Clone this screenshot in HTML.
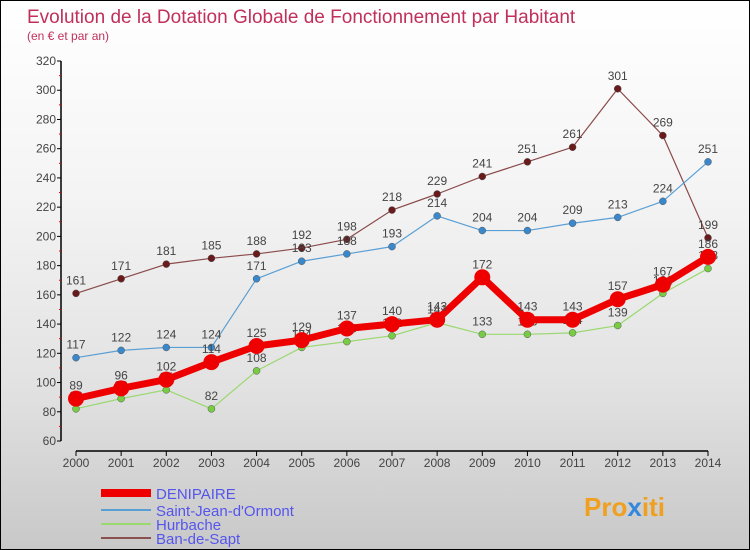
<!DOCTYPE html>
<html><head><meta charset="utf-8"><style>
body{margin:0}
#c{width:750px;height:550px;position:relative;box-sizing:border-box;border:1px solid #000;background:linear-gradient(#fff,#f4f4f4 35%,#e2e2e2 70%,#c8c8c8);font-family:"Liberation Sans",sans-serif;overflow:hidden}
</style></head><body>
<div id="c">
<svg id="s" width="750" height="550" style="position:absolute;left:0;top:0">
<text x="26" y="22" font-size="19" fill="#c0305a">Evolution de la Dotation Globale de Fonctionnement par Habitant</text>
<text x="26" y="39" font-size="12" fill="#c0305a">(en € et par an)</text>
<line x1="60" y1="60" x2="60" y2="440" stroke="#000" stroke-width="1.5"/>
<line x1="75" y1="450" x2="707" y2="450" stroke="#000" stroke-width="1.5"/>
<g id="g"></g>
<g>
<line x1="100" y1="492" x2="150" y2="492" stroke="#e00" stroke-width="8"/>
<text x="155" y="498" font-size="15" fill="#5555ee">DENIPAIRE</text>
<line x1="100" y1="509" x2="150" y2="509" stroke="#5a9fd4" stroke-width="2"/>
<text x="155" y="515" font-size="15" fill="#5555ee">Saint-Jean-d'Ormont</text>
<line x1="100" y1="523" x2="150" y2="523" stroke="#9ad870" stroke-width="2"/>
<text x="155" y="529" font-size="15" fill="#5555ee">Hurbache</text>
<line x1="100" y1="537" x2="150" y2="537" stroke="#8a5050" stroke-width="2"/>
<text x="155" y="543" font-size="15" fill="#5555ee">Ban-de-Sapt</text>
</g>
<text x="583" y="515" font-size="26" font-weight="bold" fill="#f0a020">Pro<tspan fill="#3388dd">x</tspan>iti</text>
</svg>
</div>
<script>
const years=[2000,2001,2002,2003,2004,2005,2006,2007,2008,2009,2010,2011,2012,2013,2014];
const yTicks=[60,80,100,120,140,160,180,200,220,240,260,280,300,320];
const denipaire=[89,96,102,114,125,129,137,140,143,172,143,143,157,167,186];
const saintJean=[117,122,124,124,171,183,188,193,214,204,204,209,213,224,251];
const hurbache=[82,89,95,82,108,124,128,132,141,133,133,134,139,161,178];
const banDeSapt=[161,171,181,185,188,192,198,218,229,241,251,261,301,269,199];
const NS="http://www.w3.org/2000/svg";
const g=document.getElementById('g');
const X=i=>75+i*(707-75)/(years.length-1);
const Y=v=>440-(v-60)*380/260;
function mk(t,a,p){const e=document.createElementNS(NS,t);for(const k in a)e.setAttribute(k,a[k]);(p||g).appendChild(e);return e;}
yTicks.forEach((v,i)=>{
 const l=mk('line',{x1:56,x2:60,y1:Y(v),y2:Y(v),stroke:'#000'});
 
 
 const t=mk('text',{x:55,y:Y(v)+4,'font-size':12,fill:'#444','text-anchor':'end'});
 t.textContent=v;
 
 
 if(i<yTicks.length-1){const m=mk('line',{x1:58,x2:60,y1:Y(v+10),y2:Y(v+10),stroke:'#e00'});
 
 }
});
years.forEach((yr,i)=>{
 const l=mk('line',{x1:X(i),x2:X(i),y1:450,y2:455,stroke:'#000'});
 
 
 const t=mk('text',{x:X(i),y:466,'font-size':12,fill:'#444','text-anchor':'middle'});
 t.textContent=yr;
 
 
});
function series(d,col,dot,w,r,name){
 const gr=mk('g',{});
 
 
 const p=mk('polyline',{points:d.map((v,i)=>X(i)+','+Y(v)).join(' '),fill:'none',stroke:col,'stroke-width':w,'stroke-linejoin':'round'},gr);
 
 
 d.forEach((v,i)=>{
  const c=mk('circle',{cx:X(i),cy:Y(v),r:r,fill:dot,stroke:r>5?'none':'#555','stroke-width':0.5},gr);
  
  
  const t=mk('text',{x:X(i),y:Y(v)-9,'font-size':12,fill:'#444','text-anchor':'middle'},gr);
  t.textContent=v;
  
  
 });
}
series(banDeSapt,'#8a4a4a','#6a1a1a',1.2,3.5,'ban-de-sapt');
series(saintJean,'#5a9fd4','#3a88cc',1.2,3.5,'saint-jean');
series(hurbache,'#9ad870','#77cc44',1.2,3.5,'hurbache');
series(denipaire,'#e00','#e00',7,8,'denipaire');
</script>
</body></html>
